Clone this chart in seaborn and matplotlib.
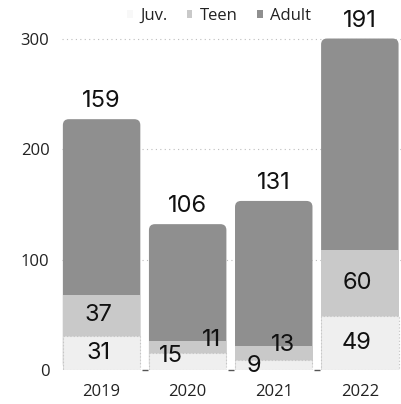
import matplotlib
matplotlib.use("Agg")
import matplotlib.pyplot as plt
from matplotlib.patches import FancyBboxPatch, Patch
import numpy as np
import pandas as pd
import seaborn as sns

# Counts per year, split by age class
years = ["2019", "2020", "2021", "2022"]
juv = [31, 15, 9, 49]
teen = [37, 11, 13, 60]
adult = [159, 106, 131, 191]
series = ["Juv.", "Teen", "Adult"]
y_ticks = [0, 100, 200, 300]

colors = {"Juv.": "#efefef", "Teen": "#c9c9c9", "Adult": "#8f8f8f"}

# label nudges (points) for segments too thin to hold their own number
nudges = {("2020", "Juv."): (-12, 4), ("2020", "Teen"): (17, 5),
          ("2021", "Juv."): (-14, -1), ("2021", "Teen"): (7, 6)}

sns.set_theme(style="white")
plt.rcParams["font.family"] = ["Open Sans", "DejaVu Sans"]

df = pd.DataFrame({"year": years, "Juv.": juv, "Teen": teen, "Adult": adult})
df["cum_teen"] = df["Juv."] + df["Teen"]
df["cum_adult"] = df["cum_teen"] + df["Adult"]

fig = plt.figure(figsize=(4.02, 4.04), dpi=100)
ax = fig.add_axes([62 / 402, 34 / 404, 340 / 402, 340 / 404])

x_lo, x_hi, y_hi = -0.46, 3.49, 307.7

# stacked bars: draw the full stack first, then overlay the lower parts
bar_kw = dict(width=0.9, saturation=1, ax=ax)
sns.barplot(data=df, x="year", y="cum_adult", color=colors["Adult"], linewidth=0,
            zorder=2, **bar_kw)
adult_bars = list(ax.patches)
sns.barplot(data=df, x="year", y="cum_teen", color=colors["Teen"], linewidth=0,
            zorder=3, **bar_kw)
sns.barplot(data=df, x="year", y="Juv.", color=colors["Juv."], linewidth=0.8,
            edgecolor="#c4c4c4", linestyle=(0, (1, 2)), zorder=4, **bar_kw)

ax.set_xlim(x_lo, x_hi)
ax.set_ylim(0, y_hi)

# round the top corners of the stacks
px_x = (x_hi - x_lo) / 340
px_y = y_hi / 340
for p in adult_bars:
    x, w, h = p.get_x(), p.get_width(), p.get_height()
    p.set_visible(False)
    box = FancyBboxPatch((x, 0), w, h,
                         boxstyle="round,pad=0,rounding_size=%f" % (6 * px_x),
                         mutation_aspect=px_y / px_x, facecolor=colors["Adult"],
                         edgecolor="none", zorder=2)
    ax.add_patch(box)

# gridlines and short baseline marks between the bars
for t in y_ticks[1:]:
    ax.axhline(t, color="#bdbdbd", lw=0.8, ls=(0, (1, 3)), zorder=1)
gaps = np.arange(len(years) - 1) + 0.5
ax.plot(gaps, np.zeros_like(gaps), ls="none", marker="_", ms=4, mew=1.0,
        color="#555555", zorder=1, clip_on=False)

# value labels
lab_font = dict(family=["Inter", "DejaVu Sans"], fontsize=17, color="#111111")
for i, yr in enumerate(years):
    bottoms = {"Juv.": 0, "Teen": juv[i], "Adult": juv[i] + teen[i]}
    vals = {"Juv.": juv[i], "Teen": teen[i], "Adult": adult[i]}
    for s in ["Juv.", "Teen"]:
        dx, dy = nudges.get((yr, s), (-2, 0))
        ax.annotate(str(vals[s]), (i, bottoms[s] + vals[s] / 2), xytext=(dx, dy),
                    textcoords="offset points", ha="center", va="center",
                    zorder=6, annotation_clip=False, **lab_font)
    ax.annotate(str(vals["Adult"]), (i, bottoms["Adult"] + vals["Adult"]), xytext=(0, 5),
                textcoords="offset points", ha="center", va="bottom",
                zorder=6, annotation_clip=False, **lab_font)

ax.set_yticks(y_ticks)
ax.set_xlabel("")
ax.set_ylabel("")
ax.tick_params(axis="both", length=0, labelsize=12, colors="#222222")
ax.tick_params(axis="y", pad=9)
ax.tick_params(axis="x", pad=10)
for sp in ax.spines.values():
    sp.set_visible(False)

handles = [Patch(facecolor=colors[s], edgecolor="none") for s in series]
handles[0] = Patch(facecolor="#f8f8f8", edgecolor="none")
fig.legend(handles, series, loc="center", bbox_to_anchor=(219 / 402, 1 - 16 / 404),
           ncol=3, frameon=False, fontsize=12, handlelength=0.35, handleheight=0.35,
           handletextpad=0.45, columnspacing=1.15, labelcolor="#222222")

fig.savefig("out.png", dpi=100)
